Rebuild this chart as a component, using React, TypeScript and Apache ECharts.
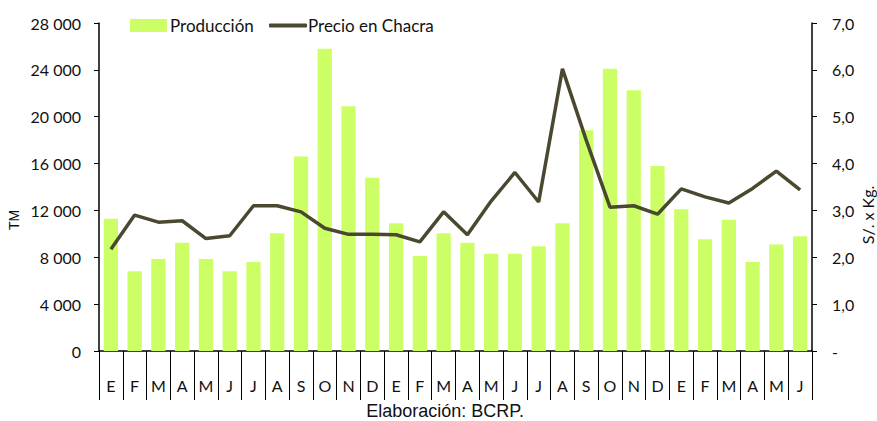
import React, { useEffect, useRef } from "react";
import * as echarts from "echarts";

const months = ["E","F","M","A","M","J","J","A","S","O","N","D","E","F","M","A","M","J","J","A","S","O","N","D","E","F","M","A","M","J"];
const production = [11300, 6800, 7850, 9250, 7850, 6800, 7600, 10050, 16600, 25800, 20900, 14800, 10900, 8100, 10050, 9250, 8300, 8300, 8950, 10900, 18850, 24100, 22250, 15800, 12100, 9550, 11200, 7600, 9100, 9800];
const price = [2.17, 2.90, 2.75, 2.78, 2.40, 2.46, 3.10, 3.10, 2.97, 2.62, 2.49, 2.49, 2.48, 2.33, 2.97, 2.48, 3.20, 3.81, 3.18, 6.02, 4.50, 3.07, 3.10, 2.92, 3.46, 3.29, 3.16, 3.47, 3.84, 3.44];
const seriesNames = ["Producción", "Precio en Chacra"];
const leftAxisName = "TM";
const rightAxisName = "S/. x Kg.";
const sourceNote = "Elaboración: BCRP.";

const FONT = "Lato, 'Open Sans', sans-serif";
const ARIAL = "'Liberation Sans', Arial, sans-serif";

export default function App() {
  const ref = useRef<HTMLDivElement>(null);
  useEffect(() => {
    if (!ref.current) return;
    const chart = echarts.init(ref.current, undefined, { renderer: "svg" });
    chart.setOption({
      animation: false,
      backgroundColor: "#ffffff",
      legend: [
        {
          left: 130,
          top: 17,
          padding: 0,
          itemWidth: 37,
          itemHeight: 13,
          textStyle: { fontFamily: FONT, fontSize: 17, color: "#111", padding: [0, 0, 0, -2] },
          data: [{ name: seriesNames[0], icon: "rect" }],
        },
        {
          left: 269,
          top: 17,
          padding: 0,
          itemWidth: 38,
          itemHeight: 4,
          textStyle: { fontFamily: FONT, fontSize: 17, color: "#111", padding: [0, 0, 0, -4] },
          data: [{ name: seriesNames[1], icon: "roundRect" }],
        },
      ],
      grid: { left: 99, right: 65, top: 23, bottom: 70 },
      xAxis: {
        type: "category",
        data: months,
        boundaryGap: true,
        axisLine: { show: true, lineStyle: { color: "#000", width: 1.5 } },
        axisTick: { show: true, interval: 0, length: 49, lineStyle: { color: "#000", width: 1 } },
        axisLabel: { interval: 0, margin: 26, fontFamily: FONT, fontSize: 16, color: "#111" },
      },
      yAxis: [
        {
          type: "value",
          min: 0,
          max: 28000,
          interval: 4000,
          splitLine: { show: false },
          axisLine: { show: true, lineStyle: { color: "#000", width: 1.5 } },
          axisTick: { show: true, length: 5, lineStyle: { color: "#000" } },
          axisLabel: {
            margin: 18,
            fontFamily: FONT,
            fontSize: 16,
            color: "#111",
            formatter: (v: number) => (v === 0 ? "0" : String(v).replace(/\B(?=(\d{3})+(?!\d))/g, " ")),
          },
        },
        {
          type: "value",
          min: 0,
          max: 7,
          interval: 1,
          position: "right",
          splitLine: { show: false },
          axisLine: { show: true, lineStyle: { color: "#000", width: 1.5 } },
          axisTick: { show: true, length: 5, lineStyle: { color: "#000" } },
          axisLabel: {
            margin: 20,
            fontFamily: FONT,
            fontSize: 16,
            color: "#111",
            formatter: (v: number) => (v === 0 ? "-" : v.toFixed(1).replace(".", ",")),
          },
        },
      ],
      graphic: [
        {
          type: "text",
          x: 14,
          y: 220,
          rotation: Math.PI / 2,
          style: {
            text: leftAxisName,
            fontFamily: ARIAL,
            fontSize: 14,
            fill: "#111",
            align: "center",
            verticalAlign: "middle",
          },
        },
        {
          type: "text",
          x: 867,
          y: 215,
          rotation: Math.PI / 2,
          style: {
            text: rightAxisName,
            fontFamily: FONT,
            fontSize: 16,
            fill: "#111",
            align: "center",
            verticalAlign: "middle",
          },
        },
        {
          type: "text",
          x: 445,
          y: 411,
          style: {
            text: sourceNote,
            fontFamily: ARIAL,
            fontSize: 18,
            fill: "#111",
            align: "center",
            verticalAlign: "middle",
          },
        },
      ],
      series: [
        {
          name: seriesNames[0],
          type: "bar",
          yAxisIndex: 0,
          data: production,
          barCategoryGap: "40%",
          itemStyle: { color: "#ccff66" },
        },
        {
          name: seriesNames[1],
          type: "line",
          yAxisIndex: 1,
          data: price,
          symbol: "none",
          lineStyle: { color: "#4b4830", width: 3.5 },
          itemStyle: { color: "#4b4830" },
        },
      ],
    });
    return () => chart.dispose();
  }, []);
  return <div ref={ref} style={{ width: 877, height: 421, position: "absolute", left: 0, top: 0 }} />;
}
